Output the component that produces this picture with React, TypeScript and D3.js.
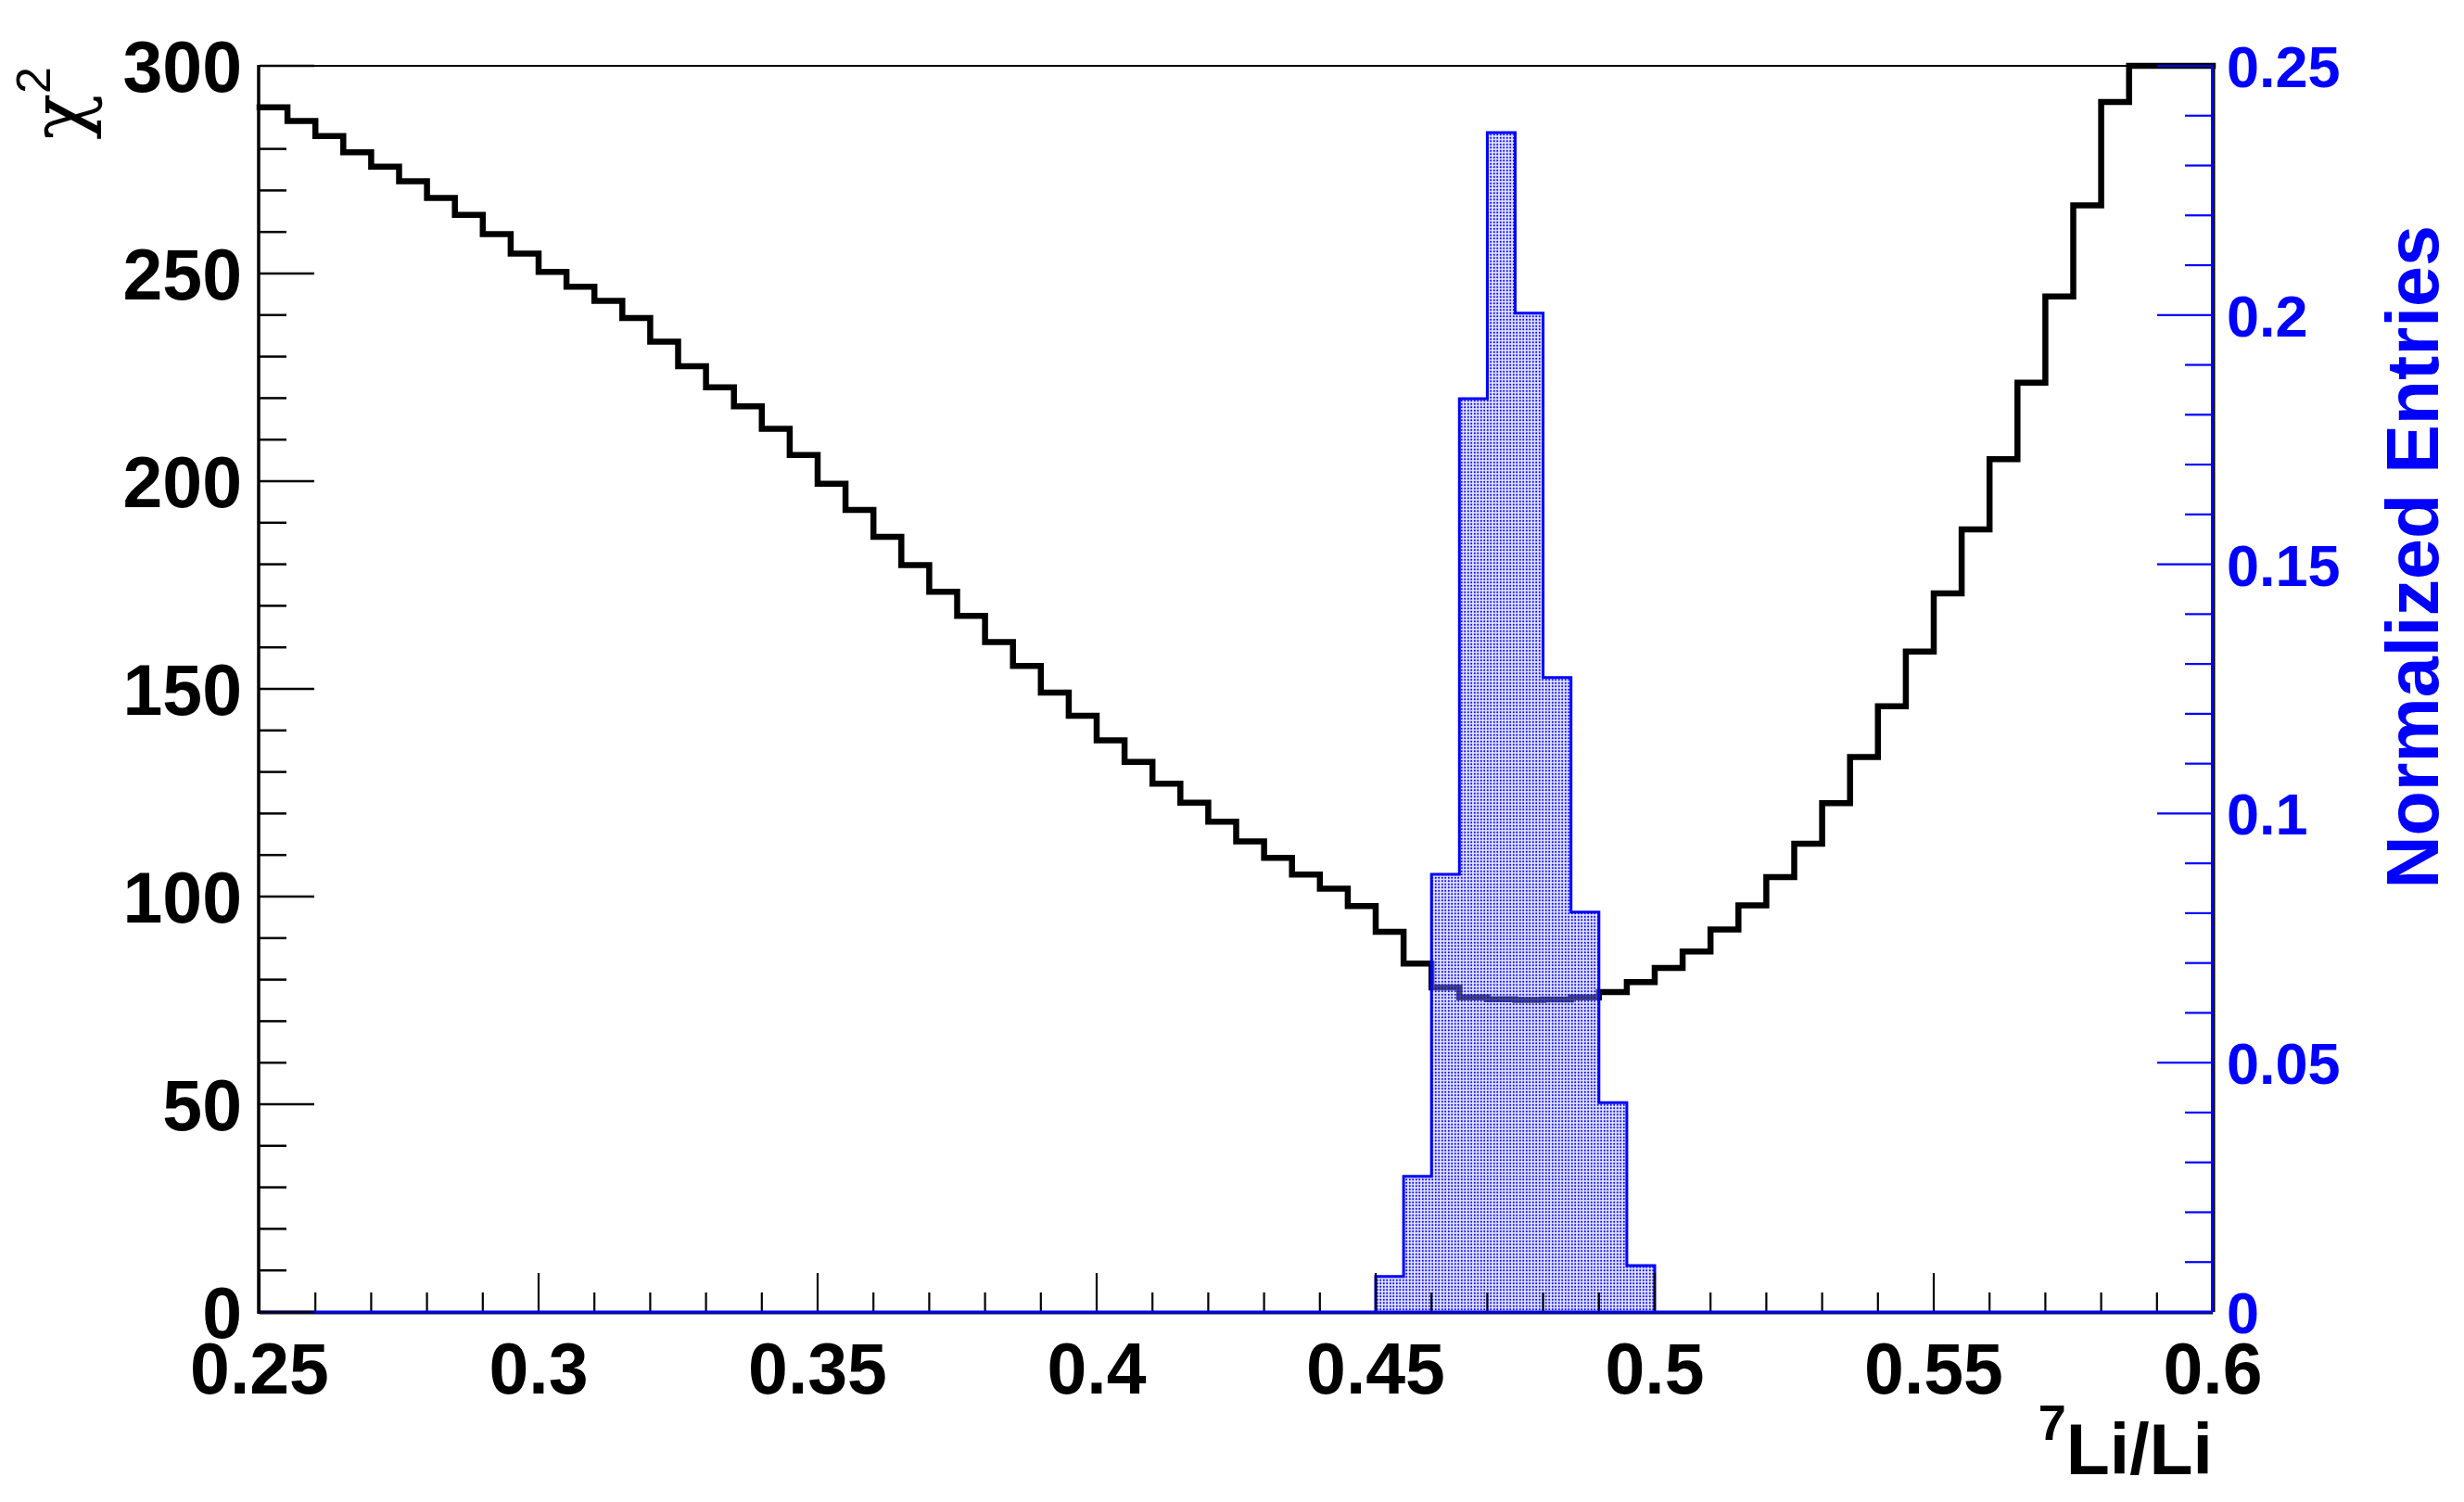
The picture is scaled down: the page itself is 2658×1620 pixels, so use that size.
import React, { useEffect } from "react";
import * as d3 from "d3";

// ---- data ----
const chi2BinLow = 0.25;
const chi2BinWidth = 0.005;
const chi2Values = [
  290.0, 286.7, 283.1, 279.2, 275.7, 272.2, 268.2, 264.1, 259.5, 254.8,
  250.4, 246.8, 243.4, 239.3, 233.6, 227.7, 222.6, 218.0, 212.6, 206.3,
  199.4, 193.1, 186.6, 179.8, 173.4, 167.6, 161.3, 155.5, 149.1, 143.5,
  137.6, 132.4, 127.2, 122.6, 118.0, 113.3, 109.3, 105.3, 101.9, 97.7,
  91.5, 83.9, 78.1, 75.7, 75.3, 75.1, 75.2, 75.7, 77.0, 79.4,
  82.8, 86.8, 92.1, 97.9, 104.7, 112.7, 122.5, 133.6, 145.8, 159.0,
  173.0, 188.4, 205.3, 223.7, 244.5, 266.4, 291.3, 301.0, 312.0, 324.0,
];
const entriesBinLow = 0.45;
const entriesBinWidth = 0.005;
const entriesValues = [0.0071, 0.0272, 0.0878, 0.1832, 0.2366, 0.2004, 0.1273, 0.0802, 0.042, 0.0093];

const xTicks = [0.25, 0.3, 0.35, 0.4, 0.45, 0.5, 0.55, 0.6];
const xTickLabels = ["0.25", "0.3", "0.35", "0.4", "0.45", "0.5", "0.55", "0.6"];
const leftTicks = [0, 50, 100, 150, 200, 250, 300];
const leftTickLabels = ["0", "50", "100", "150", "200", "250", "300"];
const rightTicks = [0, 0.05, 0.1, 0.15, 0.2, 0.25];
const rightTickLabels = ["0", "0.05", "0.1", "0.15", "0.2", "0.25"];

const W = 2658;
const H = 1620;
const L = 280, R = 2387, T = 71, B = 1415;
const BLUE = "#0000ff";
const FONT = "'Liberation Sans', Arial, Helvetica, sans-serif";

export default function App() {
  useEffect(() => {
    document.body.style.margin = "0";
    document.body.style.overflow = "hidden";
  }, []);

  const x = d3.scaleLinear().domain([0.25, 0.6]).range([L, R]);
  const yL = d3.scaleLinear().domain([0, 300]).range([B, T]);
  const yR = d3.scaleLinear().domain([0, 0.25]).range([B, T]);

  // chi2 step line
  const chiPts: [number, number][] = chi2Values.map((v, i) => [chi2BinLow + i * chi2BinWidth, Math.min(v, 300)]);
  chiPts.push([chi2BinLow + chi2Values.length * chi2BinWidth, Math.min(chi2Values[chi2Values.length - 1], 300)]);
  const chiLine = d3
    .line<[number, number]>()
    .x((d) => x(d[0]))
    .y((d) => yL(d[1]))
    .curve(d3.curveStepAfter)(chiPts) as string;

  // entries histogram
  const n = entriesValues.length;
  const ePts: [number, number][] = [[entriesBinLow, 0]];
  entriesValues.forEach((v, i) => ePts.push([entriesBinLow + i * entriesBinWidth, v]));
  ePts.push([entriesBinLow + n * entriesBinWidth, entriesValues[n - 1]]);
  ePts.push([entriesBinLow + n * entriesBinWidth, 0]);
  const eLine = d3
    .line<[number, number]>()
    .x((d) => x(d[0]))
    .y((d) => yR(d[1]))
    .curve(d3.curveStepAfter)(ePts) as string;

  const xMinor = d3.range(0, 36).map((i) => 0.25 + i * 0.01).filter((v) => v <= 0.6 + 1e-9);
  const lMinor = d3.range(0, 31).map((i) => i * 10);
  const rMinor = d3.range(0, 26).map((i) => i * 0.01);
  const isMajor = (v: number, step: number) => Math.abs(v / step - Math.round(v / step)) < 1e-6;

  return (
    <svg width={W} height={H} style={{ position: "absolute", left: 0, top: 0, background: "#fff" }}>
      <defs>
        <pattern id="dots" width="3.5" height="3.5" patternUnits="userSpaceOnUse">
          <rect width="3.5" height="3.5" fill="rgb(190,190,255)" fillOpacity="0.4" />
          <circle cx="1.75" cy="1.75" r="1.05" fill={BLUE} />
        </pattern>
      </defs>
      <rect x={0} y={0} width={W} height={H} fill="#fff" />

      {/* frame top & right */}
      <line x1={L} x2={R} y1={T} y2={T} stroke="#000" strokeWidth={2} />
      <line x1={R + 1.5} x2={R + 1.5} y1={T} y2={B} stroke="#000" strokeWidth={2} />
      <line x1={L} x2={R} y1={B + 1.5} y2={B + 1.5} stroke="#000" strokeWidth={2} />

      {/* chi2 line */}
      <path d={chiLine} fill="none" stroke="#000" strokeWidth={6.5} strokeLinejoin="miter" strokeLinecap="square" />

      {/* entries histogram */}
      <path d={eLine} fill="url(#dots)" stroke="none" />
      <path d={eLine} fill="none" stroke={BLUE} strokeWidth={3} />

      {/* x axis ticks */}
      {xMinor.map((v, i) => {
        const maj = isMajor(v - 0.25, 0.05);
        return (
          <line key={"xt" + i} x1={x(v)} x2={x(v)} y1={B} y2={B - (maj ? 42 : 21)} stroke="#000" strokeWidth={2.2} />
        );
      })}
      {/* bottom axis line (blue) */}
      <line x1={L} x2={R} y1={B} y2={B} stroke={BLUE} strokeWidth={3} />

      {/* left axis */}
      {lMinor.map((v, i) => {
        const maj = isMajor(v, 50);
        return (
          <line key={"lt" + i} x1={L} x2={L + (maj ? 59 : 29)} y1={yL(v)} y2={yL(v)} stroke="#000" strokeWidth={2.5} />
        );
      })}
      <line x1={L - 1} x2={L - 1} y1={T - 1} y2={B + 2} stroke="#000" strokeWidth={3.5} />

      {/* right axis */}
      {rMinor.map((v, i) => {
        const maj = isMajor(v, 0.05);
        return (
          <line key={"rt" + i} x1={R} x2={R - (maj ? 60 : 30)} y1={yR(v)} y2={yR(v)} stroke={BLUE} strokeWidth={2.2} />
        );
      })}
      <line x1={R - 0.5} x2={R - 0.5} y1={T} y2={B} stroke={BLUE} strokeWidth={3} />

      {/* x tick labels */}
      {xTicks.map((v, i) => (
        <text key={"xl" + i} x={x(v)} y={1503} textAnchor="middle" fontFamily={FONT} fontWeight="bold" fontSize={77} fill="#000">
          {xTickLabels[i]}
        </text>
      ))}
      {/* left tick labels */}
      {leftTicks.map((v, i) => (
        <text key={"ll" + i} x={261} y={yL(v) + 28} textAnchor="end" fontFamily={FONT} fontWeight="bold" fontSize={77} fill="#000">
          {leftTickLabels[i]}
        </text>
      ))}
      {/* right tick labels */}
      {rightTicks.map((v, i) => (
        <text key={"rl" + i} x={2402} y={yR(v) + 23} textAnchor="start" fontFamily={FONT} fontWeight="bold" fontSize={63} fill={BLUE}>
          {rightTickLabels[i]}
        </text>
      ))}

      {/* axis titles */}
      <text x={2387} y={1590} textAnchor="end" fontFamily={FONT} fontWeight="bold" fill="#000">
        <tspan fontSize={54} dy={-37}>7</tspan>
        <tspan fontSize={77} dy={37}>Li/Li</tspan>
      </text>
      <text transform="translate(2630,243) rotate(-90)" textAnchor="end" fontFamily={FONT} fontWeight="bold" fontSize={79} fill={BLUE}>
        Normalized Entries
      </text>
      <text transform="translate(92,72) rotate(-90)" textAnchor="end" fill="#000">
        <tspan fontFamily="'DejaVu Serif', 'Liberation Serif', serif" fontSize={82}>χ</tspan>
        <tspan fontFamily={FONT} fontSize={52} dy={-38}>2</tspan>
      </text>
    </svg>
  );
}
